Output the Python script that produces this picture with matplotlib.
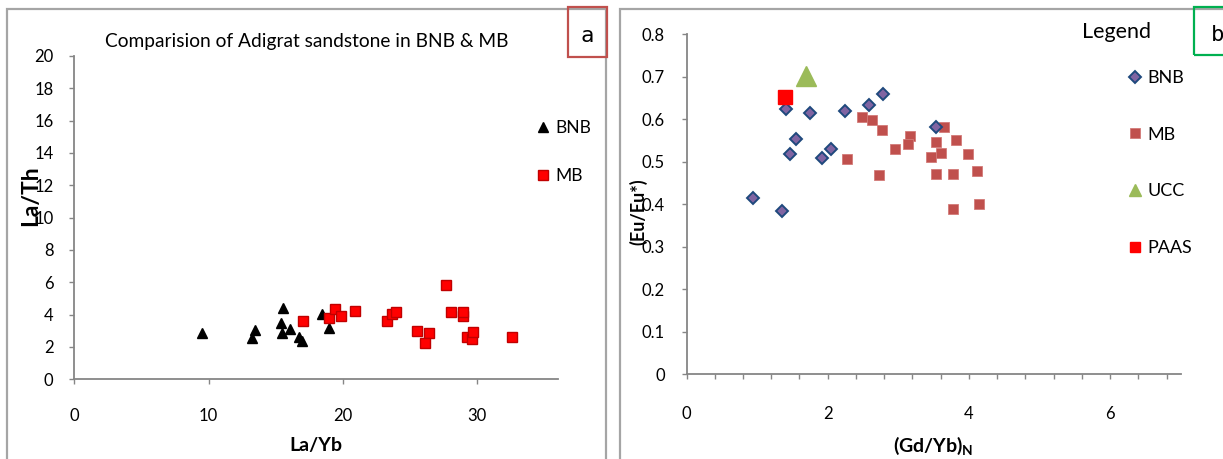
import matplotlib
matplotlib.use("Agg")
import matplotlib.pyplot as plt
from matplotlib.patches import Rectangle
from matplotlib.lines import Line2D
from matplotlib.ticker import FixedLocator, FuncFormatter

plt.rcParams['font.family'] = ['Lato', 'DejaVu Sans']
plt.rcParams['mathtext.fontset'] = 'custom'
plt.rcParams['mathtext.bf'] = 'Lato:bold'
plt.rcParams['mathtext.rm'] = 'Lato'

# ---- (a) La/Yb vs La/Th ----
bnb_la_yb = [9.53, 13.21, 13.46, 15.52, 15.37, 15.49, 16.09, 16.76, 16.96, 18.45, 18.97]
bnb_la_th = [2.88, 2.55, 3.05, 4.39, 3.46, 2.88, 3.13, 2.63, 2.39, 4.04, 3.17]

mb_la_yb = [17.03, 18.95, 19.44, 19.84, 20.89, 23.29, 23.67, 23.96, 25.55, 26.45,
            26.15, 27.71, 28.04, 28.93, 28.98, 29.23, 29.65, 29.72, 32.61]
mb_la_th = [3.59, 3.81, 4.37, 3.90, 4.24, 3.62, 4.06, 4.18, 2.97, 2.84,
            2.26, 5.81, 4.16, 3.93, 4.14, 2.63, 2.49, 2.93, 2.60]

a_xticks = [0, 10, 20, 30]
a_yticks = [0, 2, 4, 6, 8, 10, 12, 14, 16, 18, 20]

# ---- (b) (Gd/Yb)N vs Eu/Eu* ----
bnb_gd_yb = [1.41, 1.75, 2.25, 2.59, 2.79, 1.55, 1.47, 1.92, 2.05, 3.53, 0.94, 1.35]
bnb_eu = [0.624, 0.616, 0.619, 0.634, 0.659, 0.553, 0.518, 0.510, 0.529, 0.583, 0.414, 0.384]

mb_gd_yb = [2.48, 2.63, 2.77, 2.27, 2.72, 2.95, 3.16, 3.14, 3.65, 3.53,
            3.47, 3.61, 3.82, 3.53, 3.78, 3.99, 4.12, 3.78, 4.15]
mb_eu = [0.606, 0.598, 0.576, 0.506, 0.469, 0.531, 0.561, 0.541, 0.583, 0.547,
         0.511, 0.520, 0.551, 0.471, 0.471, 0.518, 0.478, 0.389, 0.401]

ucc_gd_yb = [1.69]
ucc_eu = [0.702]
paas_gd_yb = [1.395]
paas_eu = [0.653]

b_xticks = [round(0.4 * i, 1) for i in range(18)]
b_xlabels = [0, 2, 4, 6]
b_yticks = [0, 0.1, 0.2, 0.3, 0.4, 0.5, 0.6, 0.7, 0.8]

W, H, DPI = 1223, 459, 100
fig = plt.figure(figsize=(W / DPI, H / DPI), dpi=DPI)


def fx(px):
    return px / W


def fy(py):
    return 1 - py / H


def box(x0, x1, ytop, ybot):
    return [fx(x0), fy(ybot), (x1 - x0) / W, (ybot - ytop) / H]


AXIS_GREY = '#868686'

# outer chart frames
for x0, x1 in [(7, 606), (620, 1260)]:
    fig.patches.append(Rectangle((fx(x0), fy(480)), (x1 - x0) / W, (480 - 9) / H,
                                 transform=fig.transFigure, fill=False,
                                 ec='#A5A5A5', lw=1.6, zorder=0))

# panel tags
fig.patches.append(Rectangle((fx(568), fy(56.5)), 39 / W, 49.5 / H, transform=fig.transFigure,
                             fill=False, ec='#C0504D', lw=1.6))
fig.patches.append(Rectangle((fx(1194), fy(55)), 40 / W, 48 / H, transform=fig.transFigure,
                             fill=False, ec='#00B050', lw=1.6))
fig.text(fx(587.5), fy(36), 'a', family='DejaVu Sans Mono', fontsize=16,
         ha='center', va='center')
fig.text(fx(1211), fy(35), 'b', family='DejaVu Sans Mono', fontsize=16,
         ha='left', va='center')


def style_axes(ax):
    for s in ('top', 'right'):
        ax.spines[s].set_visible(False)
    for s in ('left', 'bottom'):
        ax.spines[s].set_color(AXIS_GREY)
        ax.spines[s].set_linewidth(1.3)
    ax.tick_params(direction='out', length=3.6, width=1, color=AXIS_GREY,
                   labelsize=12, labelcolor='black')
    ax.set_facecolor('none')


# ---------- panel a ----------
ax_a = fig.add_axes(box(74.4, 557.5, 56, 379.3))
style_axes(ax_a)
ax_a.plot(bnb_la_yb, bnb_la_th, ls='none', marker='^', ms=6.8, color='black',
          mec='black', clip_on=False)
ax_a.plot(mb_la_yb, mb_la_th, ls='none', marker='s', ms=7.6, mfc='#FF0000',
          mec='#C00000', mew=1.0, clip_on=False)
ax_a.set_xlim(0, 36)
ax_a.set_ylim(0, 20)
ax_a.xaxis.set_major_locator(FixedLocator(a_xticks))
ax_a.yaxis.set_major_locator(FixedLocator(a_yticks))
ax_a.tick_params(axis='x', pad=17)
ax_a.tick_params(axis='y', pad=11.5)

fig.text(fx(307), fy(42), 'Comparision of Adigrat sandstone in BNB & MB',
         fontsize=13.8, ha='center', va='center')
fig.text(fx(316), fy(446), 'La/Yb', fontsize=14, fontweight='bold',
         ha='center', va='center')
fig.text(fx(31), fy(196), 'La/Th', fontsize=16.5, fontweight='bold',
         ha='center', va='center', rotation=90)

a_handles = [
    Line2D([], [], ls='none', marker='^', ms=6.5, color='black'),
    Line2D([], [], ls='none', marker='s', ms=6.5, mfc='#FF0000', mec='#C00000', mew=1.0),
]
leg_a = fig.legend(a_handles, ['BNB', 'MB'], loc='upper left',
                   bbox_to_anchor=(fx(537), fy(120)), frameon=False,
                   fontsize=12.5, handlelength=0.7, handletextpad=0.35,
                   labelspacing=1.85, borderpad=0, borderaxespad=0)

# ---------- panel b ----------
ax_b = fig.add_axes(box(686.5, 1180.7, 34.3, 374.3))
style_axes(ax_b)
ax_b.plot(bnb_gd_yb, bnb_eu, ls='none', marker='D', ms=5.8, mfc='#8064A2',
          mec='#1F497D', mew=1.4, clip_on=False, zorder=3)
ax_b.plot(mb_gd_yb, mb_eu, ls='none', marker='s', ms=7.6, mfc='#C0504D',
          mec='#D27A78', mew=0.6, clip_on=False, zorder=2)
ax_b.plot(ucc_gd_yb, ucc_eu, ls='none', marker='^', ms=14.5, color='#9BBB59',
          clip_on=False, zorder=3)
ax_b.plot(paas_gd_yb, paas_eu, ls='none', marker='s', ms=10, color='#FF0000',
          clip_on=False, zorder=3)
ax_b.set_xlim(0, 7)
ax_b.set_ylim(0, 0.8)
ax_b.xaxis.set_major_locator(FixedLocator(b_xticks))
ax_b.xaxis.set_major_formatter(FuncFormatter(
    lambda v, p: f'{v:g}' if any(abs(v - t) < 1e-6 for t in b_xlabels) else ''))
ax_b.yaxis.set_major_locator(FixedLocator(b_yticks))
ax_b.yaxis.set_major_formatter(FuncFormatter(lambda v, p: f'{v:g}'))
ax_b.tick_params(axis='x', pad=19)
ax_b.tick_params(axis='y', pad=12)

fig.text(fx(933.5), fy(446), r'(Gd/Yb)$_{\mathbf{N}}$', fontsize=14,
         fontweight='bold', ha='center', va='center')
fig.text(fx(638), fy(212), '(Eu/Eu*)', fontsize=13, fontweight='bold',
         ha='center', va='center', rotation=90)
fig.text(fx(1117), fy(31.5), 'Legend', fontsize=15.5, ha='center', va='center')

b_handles = [
    Line2D([], [], ls='none', marker='D', ms=5.8, mfc='#8064A2', mec='#1F497D', mew=1.4),
    Line2D([], [], ls='none', marker='s', ms=7.2, mfc='#C0504D', mec='#D27A78', mew=0.6),
    Line2D([], [], ls='none', marker='^', ms=9, color='#9BBB59'),
    Line2D([], [], ls='none', marker='s', ms=7.2, color='#FF0000'),
]
leg_b = fig.legend(b_handles, ['BNB', 'MB', 'UCC', 'PAAS'], loc='upper left',
                   bbox_to_anchor=(fx(1129), fy(70)), frameon=False,
                   fontsize=13, handlelength=0.7, handletextpad=0.3,
                   labelspacing=2.25, borderpad=0, borderaxespad=0)

fig.savefig('out.png', dpi=DPI)
